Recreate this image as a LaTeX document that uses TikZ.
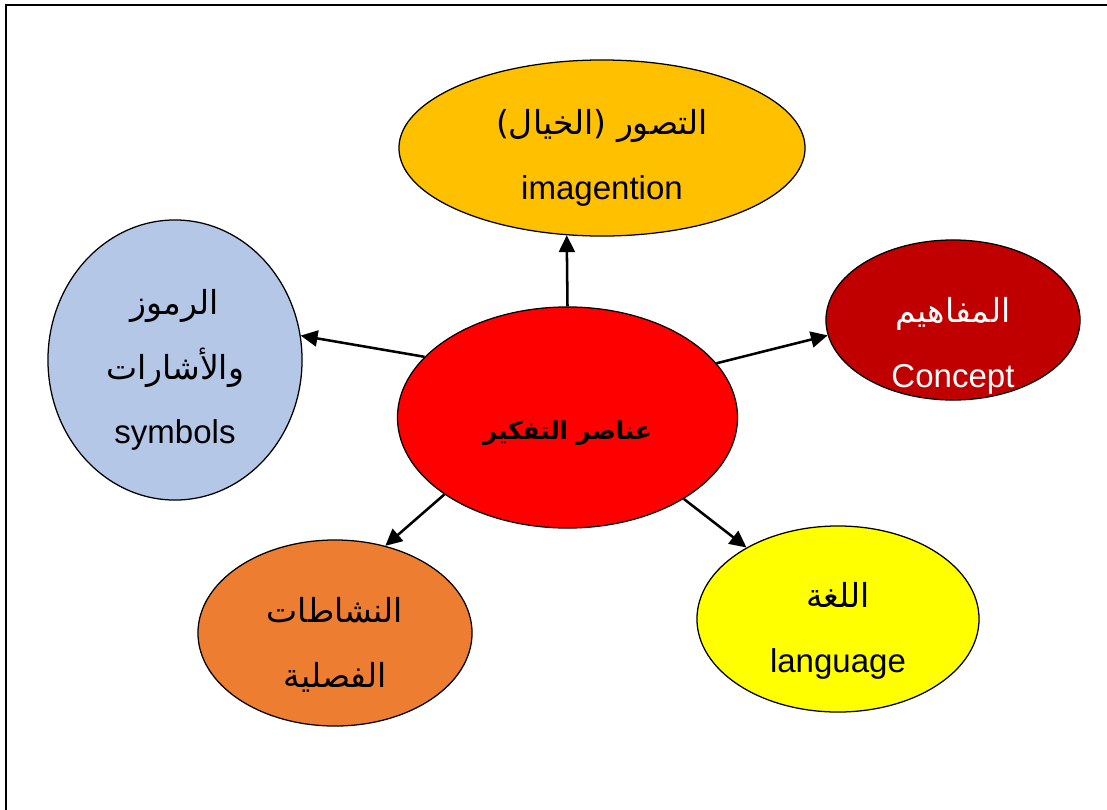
\documentclass[tikz,border=0pt]{standalone}
\usepackage{fontspec}
\setmainfont{Liberation Sans}
\newfontfamily\arabicfont[Script=Arabic]{DejaVu Sans}
\TeXXeTstate=1
\usetikzlibrary{shapes.geometric,arrows.meta}
\definecolor{thinkred}{RGB}{255,0,0}
\definecolor{imaggold}{RGB}{255,192,0}
\definecolor{conceptred}{RGB}{192,0,0}
\definecolor{symbolblue}{RGB}{180,199,231}
\definecolor{activorange}{RGB}{237,125,49}
\definecolor{langyellow}{RGB}{255,255,0}

\begin{document}
\begin{tikzpicture}[x=0.025cm, y=-0.025cm,
  bubble/.style={ellipse, draw=black, line width=0.9pt, inner sep=0pt},
  words/.style={align=center, inner sep=0pt, font=\fontsize{23.5}{46}\selectfont},
  link/.style={line width=1.8pt, -{Triangle[length=4.2mm, width=4mm]}}]

\useasboundingbox (0,0) rectangle (1107,810);

% Frame
\draw[line width=2pt] (6,810) -- (6,5) -- (1107,5);

% Centre
\node[bubble, fill=thinkred, minimum width=8.5cm, minimum height=5.525cm] (think) at (567.5,417.5) {};
\node[words] (thinktext) at ([yshift=-0.38cm]think.center)
  {\arabicfont\bfseries\fontsize{17.5}{20}\selectfont\beginR عناصر التفكير\endR};

% Outer bubbles
\node[bubble, fill=imaggold, minimum width=10.15cm, minimum height=4.4cm] (imag) at (602,148) {};
\node[words] (imagtext) at ([yshift=-0.25cm]imag.center)
  {\arabicfont\beginR التصور  (الخيال)\endR\\ imagention};

\node[bubble, fill=conceptred, minimum width=6.35cm, minimum height=4cm] (concept) at (953,320) {};
\node[words, text=white] (concepttext) at ([yshift=-0.65cm]concept.center)
  {\arabicfont\beginR المفاهيم\endR\\ Concept};

\node[bubble, fill=symbolblue, minimum width=6.35cm, minimum height=7cm] (symbols) at (175,360) {};
\node[words] (symbolstext) at ([yshift=-0.25cm]symbols.center)
  {\arabicfont\beginR الرموز\endR\\ \arabicfont\beginR والأشارات\endR\\ symbols};

\node[bubble, fill=activorange, minimum width=6.85cm, minimum height=4.65cm] (activ) at (335,633) {};
\node[words] (activtext) at ([yshift=-0.3cm]activ.center)
  {\arabicfont\beginR النشاطات\endR\\ \arabicfont\beginR الفصلية\endR};

\node[bubble, fill=langyellow, minimum width=7.05cm, minimum height=4.65cm] (lang) at (838,619) {};
\node[words] (langtext) at ([yshift=-0.3cm]lang.center)
  {\arabicfont\beginR اللغة\endR\\ language};

% Arrows
\draw[link] (think.north) -- (imag.248);
\draw[link] (think.20) -- (concept.187);
\draw[link] (think.157) -- (symbols.11);
\draw[link] (think.212) -- (activ.60);
\draw[link] (think.325) -- (lang.142);

\end{tikzpicture}
\end{document}
